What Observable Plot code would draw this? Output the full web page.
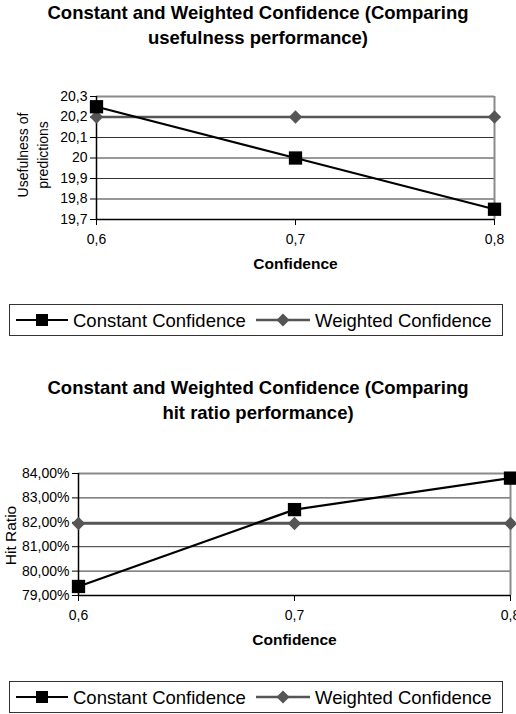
<!DOCTYPE html>
<html>
<head>
<meta charset="utf-8">
<script src="https://cdn.jsdelivr.net/npm/d3@7"></script>
<script src="https://cdn.jsdelivr.net/npm/@observablehq/plot@0.6"></script>
<style>
  body { margin: 0; background: #fff; font-family: "Liberation Sans", Arial, sans-serif; }
  #page { position: relative; width: 516px; height: 714px; overflow: hidden; background: #fff; }
  .title { position: absolute; left: 0; width: 516px; text-align: center; font-weight: bold;
           font-size: 18.5px; line-height: 25px; color: #000; }
  .chart { position: absolute; left: 0; }
  .legend { position: absolute; left: 9px; width: 494px; height: 32px; border: 1px solid #333;
            box-sizing: border-box; }
  .legend svg { position: absolute; left: -1px; top: -1px; }
</style>
</head>
<body>
<div id="page"></div>
<script>
// Confidence levels on the x axis
const confidence = [0.6, 0.7, 0.8];

// Usefulness of predictions per series
const usefulnessConstant = [20.25, 20.0, 19.75];
const usefulnessWeighted = [20.2, 20.2, 20.2];

// Hit ratio per series
const hitRatioConstant = [0.7937, 0.8252, 0.8381];
const hitRatioWeighted = [0.8195, 0.8195, 0.8195];

// Tick values
const usefulnessTicks = [19.7, 19.8, 19.9, 20.0, 20.1, 20.2, 20.3];
const hitRatioTicks = [0.79, 0.80, 0.81, 0.82, 0.83, 0.84];

const seriesNames = ["Constant Confidence", "Weighted Confidence"];

const FONT = '"Liberation Sans", Arial, sans-serif';
const locale = d3.formatLocale({decimal: ",", thousands: ".", grouping: [3], currency: ["", "€"]});
const fmtNumber = locale.format("~g");
const fmtPercent = locale.format(".2%");

const page = document.getElementById("page");

function addTitle(lines, top) {
  const div = document.createElement("div");
  div.className = "title";
  div.style.top = top + "px";
  div.innerHTML = lines.join("<br>");
  page.appendChild(div);
}

function addLegend(top) {
  const div = document.createElement("div");
  div.className = "legend";
  div.style.top = top + "px";
  const svg = d3.create("svg").attr("width", 494).attr("height", 32);
  // Constant Confidence swatch
  svg.append("line").attr("x1", 7).attr("x2", 59).attr("y1", 16).attr("y2", 16)
    .attr("stroke", "#000").attr("stroke-width", 2);
  svg.append("rect").attr("x", 27).attr("y", 10).attr("width", 12).attr("height", 12).attr("fill", "#000");
  svg.append("text").attr("x", 64).attr("y", 22.5).attr("font-family", FONT).attr("font-size", 18.5)
    .text(seriesNames[0]);
  // Weighted Confidence swatch
  svg.append("line").attr("x1", 247).attr("x2", 301).attr("y1", 16).attr("y2", 16)
    .attr("stroke", "#555").attr("stroke-width", 2.5);
  svg.append("path").attr("d", "M274,9.5L280.5,16L274,22.5L267.5,16Z").attr("fill", "#555");
  svg.append("text").attr("x", 306).attr("y", 22.5).attr("font-family", FONT).attr("font-size", 18.5)
    .text(seriesNames[1]);
  div.appendChild(svg.node());
  page.appendChild(div);
}

function addChart({top, height, marginTop, marginLeft, marginRight, constant, weighted, ticks,
                   tickFormat, yLabel, yLabelSize, yLabelDx, yLabelDy}) {
  const rowsConstant = confidence.map((c, i) => ({c, v: constant[i]}));
  const rowsWeighted = confidence.map((c, i) => ({c, v: weighted[i]}));
  const yMin = ticks[0], yMax = ticks[ticks.length - 1];
  const plot = Plot.plot({
    width: 516,
    height,
    marginTop,
    marginLeft,
    marginRight,
    marginBottom: 60,
    style: {fontFamily: FONT, fontSize: "14px", color: "#000", background: "transparent", overflow: "visible"},
    x: {domain: [0.6, 0.8]},
    y: {domain: [yMin, yMax]},
    marks: [
      Plot.ruleY(ticks.slice(1, -1), {stroke: "#333", strokeWidth: 1}),
      Plot.ruleY([yMax], {stroke: "#8a8a8a", strokeWidth: 2}),
      Plot.ruleX([0.8], {stroke: "#8a8a8a", strokeWidth: 2}),
      Plot.axisY({ticks, tickFormat, tickSize: 6, tickPadding: 3, label: null, stroke: "#000", fontSize: 14}),
      Plot.axisX({ticks: confidence, tickFormat: fmtNumber, tickSize: 6, tickPadding: 9, label: null, stroke: "#000", fontSize: 14}),
      Plot.ruleX([0.6], {stroke: "#000", strokeWidth: 1.5}),
      Plot.ruleY([yMin], {stroke: "#000", strokeWidth: 1.5}),
      Plot.line(rowsWeighted, {x: "c", y: "v", stroke: "#555", strokeWidth: 2.5}),
      Plot.dot(rowsWeighted, {x: "c", y: "v", symbol: "diamond2", r: 6, fill: "#555", stroke: "none"}),
      Plot.line(rowsConstant, {x: "c", y: "v", stroke: "#000", strokeWidth: 2.2}),
      Plot.dot(rowsConstant, {x: "c", y: "v", symbol: "square", r: 7.5, fill: "#000", stroke: "none"}),
      Plot.text([yLabel], {frameAnchor: "left", rotate: -90, dx: yLabelDx, dy: yLabelDy,
        fontSize: yLabelSize, lineHeight: 1.43, textAnchor: "middle", lineAnchor: "middle", fill: "#000"}),
      Plot.text(["Confidence"], {frameAnchor: "bottom", dy: 49, fontWeight: "bold", fontSize: 15.5, fill: "#000"})
    ]
  });
  plot.classList.add("chart");
  plot.style.top = top + "px";
  page.appendChild(plot);
}

addTitle(["Constant and Weighted Confidence (Comparing", "usefulness performance)"], 0);
addChart({
  top: 70, height: 209, marginTop: 26, marginLeft: 96, marginRight: 22,
  constant: usefulnessConstant, weighted: usefulnessWeighted, ticks: usefulnessTicks,
  tickFormat: fmtNumber, yLabel: "Usefulness of\npredictions", yLabelSize: 14, yLabelDx: -65, yLabelDy: -3
});
addLegend(304);

addTitle(["Constant and Weighted Confidence (Comparing", "hit ratio performance)"], 375);
addChart({
  top: 440, height: 215, marginTop: 33, marginLeft: 78, marginRight: 6,
  constant: hitRatioConstant, weighted: hitRatioWeighted, ticks: hitRatioTicks,
  tickFormat: fmtPercent, yLabel: "Hit Ratio", yLabelSize: 15.5, yLabelDx: -70, yLabelDy: 1
});
addLegend(681);
</script>
</body>
</html>
